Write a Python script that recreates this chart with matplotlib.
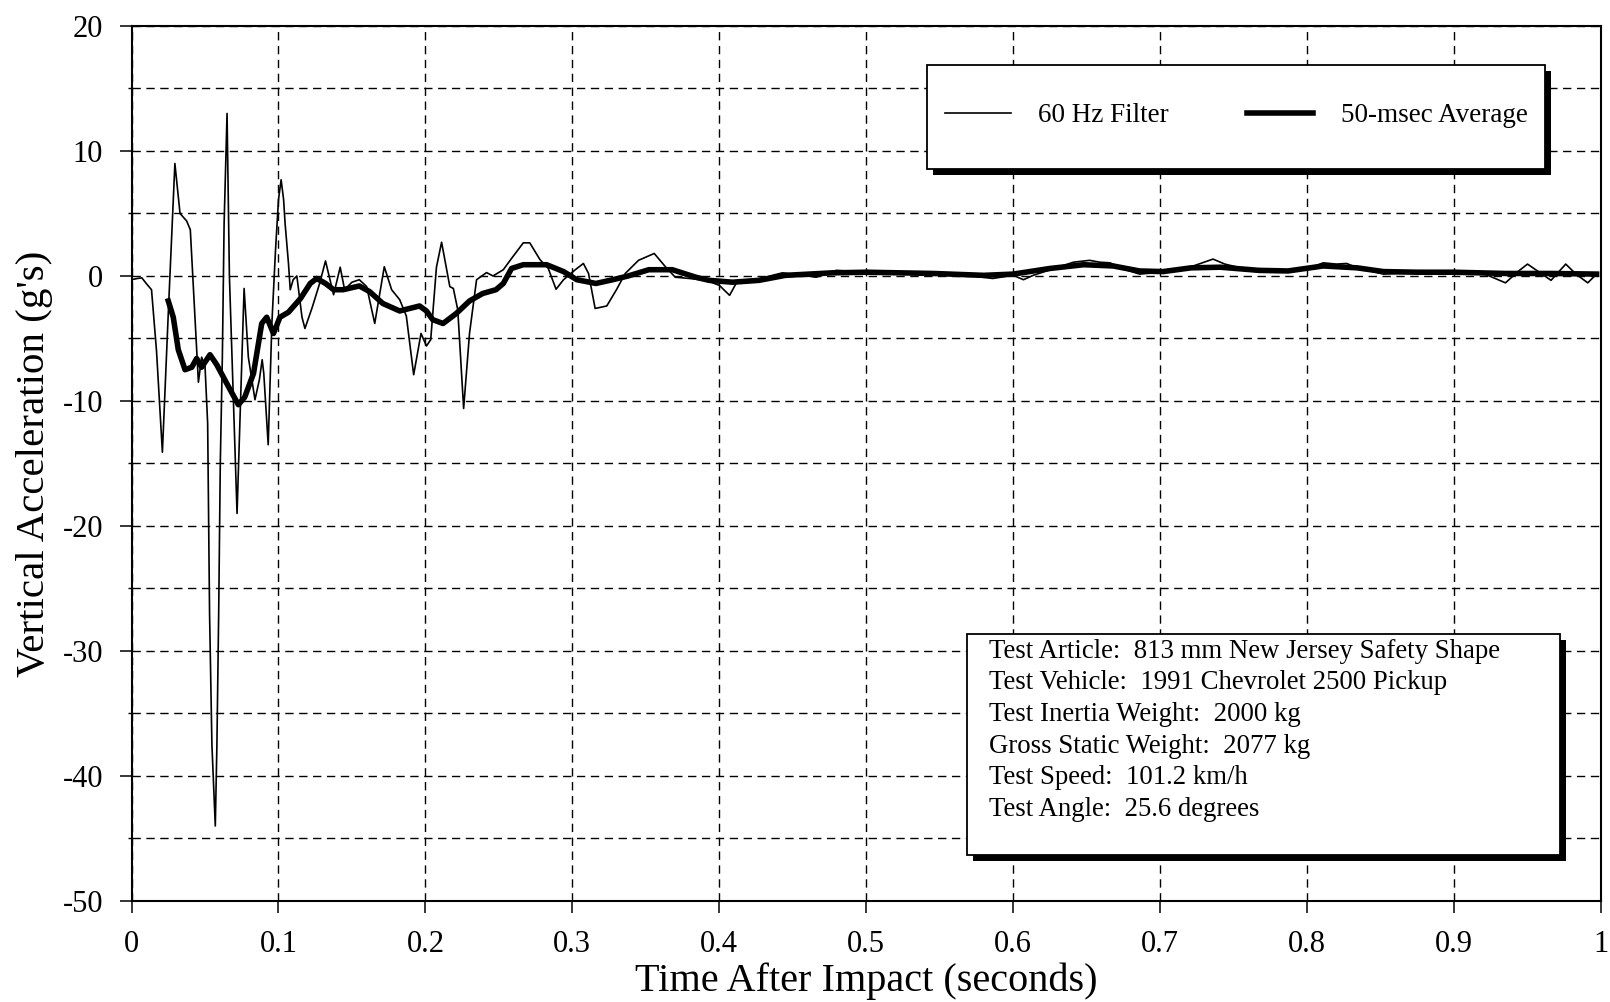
import matplotlib.pyplot as plt
import matplotlib.patheffects as pe
from matplotlib.patches import Rectangle
from matplotlib.ticker import MultipleLocator

plt.rcParams['font.family'] = 'Liberation Serif'
plt.rcParams['axes.unicode_minus'] = False

# 60 Hz filtered trace (time in s, accel in g's)
filt_t = [
    0.000, 0.004, 0.007, 0.010, 0.0136, 0.017, 0.021, 0.025, 0.0295, 0.033,
    0.0375, 0.040, 0.0455, 0.0477, 0.050, 0.0518, 0.0531, 0.0547, 0.057, 0.0581,
    0.0593, 0.0604, 0.0618, 0.063, 0.065, 0.0666, 0.0718, 0.0766, 0.0795, 0.084,
    0.087, 0.0889, 0.090, 0.093, 0.0955, 0.098, 0.100, 0.1018, 0.1035, 0.1045,
    0.1068, 0.108, 0.110, 0.1125, 0.116, 0.118, 0.123, 0.128, 0.132, 0.1375,
    0.142, 0.145, 0.150, 0.155, 0.160, 0.1655, 0.172, 0.177, 0.1825, 0.187,
    0.192, 0.197, 0.2007, 0.2036, 0.2075, 0.211, 0.2166, 0.219, 0.222, 0.226,
    0.230, 0.2348, 0.2416, 0.246, 0.253, 0.2586, 0.2666, 0.271, 0.278, 0.2836,
    0.2889, 0.294, 0.302, 0.3075, 0.311, 0.3155, 0.3234, 0.330, 0.336, 0.345,
    0.3557, 0.3636, 0.370, 0.3795, 0.391, 0.400, 0.407, 0.4114, 0.4227, 0.443,
    0.466, 0.4795, 0.500, 0.523, 0.5455, 0.568, 0.586, 0.600, 0.607, 0.6136,
    0.641, 0.652, 0.659, 0.666, 0.675, 0.686, 0.701, 0.714, 0.736, 0.744,
    0.767, 0.783, 0.802, 0.811, 0.820, 0.827, 0.834, 0.852, 0.875, 0.901,
    0.921, 0.935, 0.944, 0.950, 0.958, 0.966, 0.976, 0.983, 0.991, 0.997,
]
filt_g = [
    -0.3, -0.2, -0.15, -0.6, -1.1, -6.0, -14.1, -3.0, 9.0, 5.0,
    4.4, 3.7, -8.5, -6.5, -7.2, -11.8, -27.0, -37.5, -44.0, -37.5,
    -27.0, -15.0, -6.5, 4.2, 13.0, 0.0, -19.0, -1.0, -6.5, -9.9,
    -8.3, -6.7, -7.8, -13.5, -3.8, 2.1, 6.1, 7.7, 6.1, 4.2,
    1.0, -1.1, -0.3, 0.0, -3.3, -4.2, -2.5, -0.6, 1.2, -1.5,
    0.7, -1.1, -0.5, -0.3, -0.85, -3.8, 0.74, -1.1, -1.9, -3.2,
    -7.9, -4.6, -5.6, -5.1, 0.7, 2.7, -0.85, -1.0, -2.7, -10.6,
    -4.6, -0.3, 0.27, 0.0, 0.5, 1.4, 2.65, 2.65, 1.3, 0.6,
    -1.06, -0.3, 0.5, 1.0, 0.2, -2.6, -2.4, -1.1, 0.2, 1.25,
    1.8, 0.7, -0.1, -0.2, -0.35, -0.75, -1.55, -0.6, -0.35, 0.25,
    -0.1, 0.45, 0.3, 0.25, 0.2, 0.05, -0.2, 0.05, -0.3, 0.05,
    1.1, 1.25, 1.1, 1.05, 0.55, 0.15, 0.3, 0.45, 1.35, 0.95,
    0.3, 0.3, 0.65, 1.05, 0.95, 1.0, 0.65, 0.15, 0.3, 0.3,
    0.15, -0.55, 0.4, 0.95, 0.3, -0.35, 0.95, 0.15, -0.55, 0.15,
]

# 50-msec moving average
avg_t = [
    0.025, 0.0284, 0.0318, 0.0364, 0.041, 0.0443, 0.0477, 0.0534, 0.058, 0.0648,
    0.0727, 0.077, 0.083, 0.0886, 0.092, 0.0966, 0.101, 0.1068, 0.115, 0.1216,
    0.126, 0.132, 0.1375, 0.144, 0.155, 0.162, 0.171, 0.1825, 0.196, 0.2007,
    0.205, 0.212, 0.221, 0.230, 0.239, 0.248, 0.253, 0.2586, 0.2666, 0.2825,
    0.294, 0.303, 0.316, 0.3275, 0.338, 0.352, 0.368, 0.384, 0.393, 0.409,
    0.427, 0.445, 0.477, 0.500, 0.5455, 0.580, 0.600, 0.625, 0.648, 0.668,
    0.686, 0.702, 0.721, 0.741, 0.767, 0.787, 0.811, 0.834, 0.852, 0.875,
    0.900, 0.935, 0.966, 0.997,
]
avg_g = [
    -2.0, -3.3, -5.9, -7.5, -7.3, -6.6, -7.3, -6.3, -7.1, -8.6,
    -10.3, -9.7, -7.8, -3.8, -3.3, -4.6, -3.3, -2.9, -1.8, -0.6,
    -0.2, -0.6, -1.1, -1.1, -0.8, -1.25, -2.2, -2.8, -2.4, -2.8,
    -3.5, -3.8, -3.0, -2.0, -1.4, -1.1, -0.6, 0.6, 0.9, 0.9,
    0.35, -0.3, -0.6, -0.3, 0.0, 0.5, 0.5, -0.1, -0.35, -0.5,
    -0.35, 0.05, 0.25, 0.3, 0.2, 0.05, 0.15, 0.6, 0.9, 0.8,
    0.4, 0.35, 0.65, 0.7, 0.45, 0.4, 0.8, 0.65, 0.35, 0.3,
    0.3, 0.2, 0.2, 0.15,
]

x_ticks = [0, 0.1, 0.2, 0.3, 0.4, 0.5, 0.6, 0.7, 0.8, 0.9, 1.0]
x_tick_labels = ['0', '0.1', '0.2', '0.3', '0.4', '0.5', '0.6', '0.7', '0.8', '0.9', '1']
y_ticks = [-50, -40, -30, -20, -10, 0, 10, 20]
y_tick_labels = ['-50', '-40', '-30', '-20', '-10', '0', '10', '20']

info_lines = [
    'Test Article:  813 mm New Jersey Safety Shape',
    'Test Vehicle:  1991 Chevrolet 2500 Pickup',
    'Test Inertia Weight:  2000 kg',
    'Gross Static Weight:  2077 kg',
    'Test Speed:  101.2 km/h',
    'Test Angle:  25.6 degrees',
]

fig = plt.figure(figsize=(16.1, 10.02), dpi=100)
ax = fig.add_axes([0.0817, 0.1008, 0.9127, 0.8733])

ax.plot(filt_t, filt_g, color='black', lw=1.2, label='60 Hz Filter', zorder=3)
ax.plot(avg_t, avg_g, color='black', lw=4.0, label='50-msec Average', zorder=4)

ax.set_xlim(0, 1)
ax.set_ylim(-50, 20)
ax.set_xticks(x_ticks)
ax.set_xticklabels(x_tick_labels)
ax.set_yticks(y_ticks)
ax.set_yticklabels(y_tick_labels)
ax.yaxis.set_minor_locator(MultipleLocator(5))

ax.tick_params(axis='both', which='major', direction='out', length=8.5, width=1.1,
               labelsize=22)
ax.tick_params(axis='x', pad=12.5)
ax.tick_params(axis='y', pad=12)
ax.tick_params(axis='y', which='minor', direction='out', length=3, width=1.0)

dash = (0, (6, 4))
ax.grid(which='major', axis='both', color='black', lw=1.0, linestyle=dash)
ax.grid(which='minor', axis='y', color='black', lw=1.0, linestyle=dash)
for s in ax.spines.values():
    s.set_linewidth(1.5)

ax.set_xlabel('Time After Impact (seconds)', fontsize=29, labelpad=2.5)
ax.set_ylabel("Vertical Acceleration (g's)", fontsize=29.5, labelpad=7)

shadow_fx = [pe.SimplePatchShadow(offset=(4.3, -4.3), shadow_rgbFace='black', alpha=1),
             pe.Normal()]

# legend frame (drawn as a patch so its padding can match the original)
leg_box = Rectangle((0.5413, 0.8366), 0.4206, 0.1188, transform=ax.transAxes,
                    facecolor='white', edgecolor='black', lw=1.3, zorder=6,
                    clip_on=False)
leg_box.set_path_effects(shadow_fx)
ax.add_patch(leg_box)

leg = ax.legend(loc='center', bbox_to_anchor=(0.7516, 0.8972), borderaxespad=0,
                ncol=2, fontsize=19.5, frameon=False, borderpad=0,
                handlelength=2.45, handletextpad=1.0, columnspacing=2.9)
leg.set_zorder(7)

# info box with drop shadow
box = Rectangle((0.5686, 0.0526), 0.4035, 0.2525, transform=ax.transAxes,
                facecolor='white', edgecolor='black', lw=1.3, zorder=6,
                clip_on=False)
box.set_path_effects(shadow_fx)
ax.add_patch(box)
for i, line in enumerate(info_lines):
    ax.text(0.5835, 0.2855 - i * 0.0362, line, transform=ax.transAxes,
            fontsize=19.3, va='center', ha='left', zorder=7)

fig.savefig('out.png', dpi=100)
